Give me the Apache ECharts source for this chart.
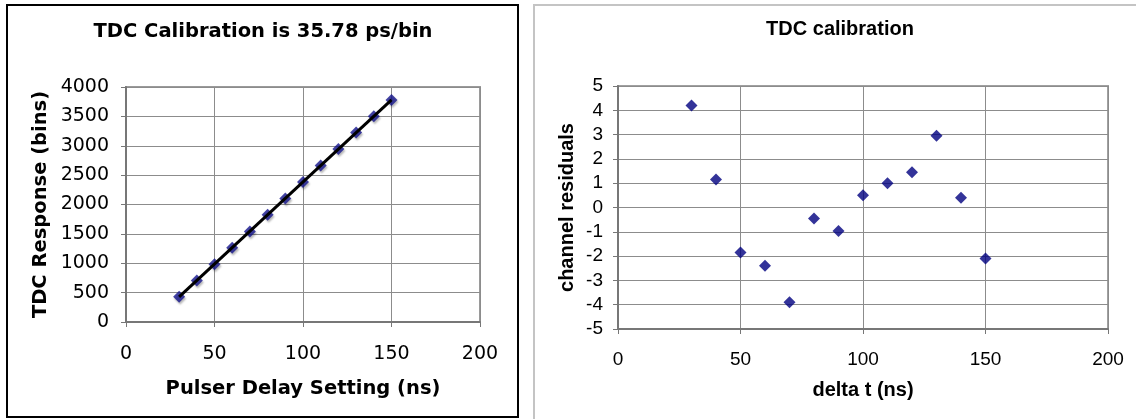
<!DOCTYPE html>
<html>
<head>
<meta charset="utf-8">
<title>TDC calibration</title>
<script src="https://cdn.jsdelivr.net/npm/echarts@6/dist/echarts.min.js"></script>
<style>
  html, body { margin: 0; padding: 0; background: #fff; }
  #chart { width: 1136px; height: 419px; }
</style>
</head>
<body>
<div id="chart"></div>
<script>
// Pulser delay settings (ns)
const delays = [30, 40, 50, 60, 70, 80, 90, 100, 110, 120, 130, 140, 150];
// TDC response (bins)
const tdcBins = [431, 707, 984, 1263, 1541, 1824, 2103, 2384, 2664, 2944, 3225, 3501, 3778];
// channel residuals of the linear fit
const residuals = [4.2, 1.15, -1.85, -2.4, -3.9, -0.45, -0.97, 0.5, 1.0, 1.45, 2.95, 0.4, -2.1];
// fit line end points
const fitX = [30, 150];
const fitY = [426, 3780];

const leftFont = "DejaVu Sans";
const rightFont = "Liberation Sans";

const chart = echarts.init(document.getElementById("chart"));

function axisCommon(font, size, nameSize, margin) {
  return {
    axisLine: { show: true, onZero: false, lineStyle: { color: "#777", width: 2 } },
    axisTick: { show: true, length: 5, lineStyle: { color: "#777", width: 1 } },
    axisLabel: { color: "#000", fontFamily: font, fontSize: size, margin: margin, formatter: (v) => String(v) },
    splitLine: { show: true, lineStyle: { color: "#8c8c8c", width: 1 } },
    nameTextStyle: { color: "#000", fontFamily: font, fontSize: nameSize, fontWeight: "bold" },
    nameLocation: "middle",
  };
}

const option = {
  animation: false,
  graphic: [
    // cadres extérieurs
    { type: "rect", shape: { x: 7, y: 5, width: 511, height: 412 }, style: { fill: "none", stroke: "#000", lineWidth: 2 } },
    { type: "rect", shape: { x: 534, y: 5, width: 620, height: 430 }, style: { fill: "none", stroke: "#c4c4c4", lineWidth: 2 } },
    // titres
    { type: "text", x: 263, y: 32, style: { text: "TDC Calibration is 35.78 ps/bin", fontFamily: leftFont, fontSize: 19.5, fontWeight: "bold", fill: "#000", align: "center", verticalAlign: "middle" } },
    { type: "text", x: 840, y: 29, style: { text: "TDC calibration", fontFamily: rightFont, fontSize: 20, fontWeight: "bold", fill: "#000", align: "center", verticalAlign: "middle" } },
  ],
  grid: [
    { left: 126, top: 87, width: 354, height: 235, show: true, borderColor: "#9a9a9a", borderWidth: 2 },
    { left: 618, top: 86, width: 490, height: 243, show: true, borderColor: "#a0a0a0", borderWidth: 2 },
  ],
  xAxis: [
    Object.assign(axisCommon(leftFont, 19, 19.5, 23), {
      type: "value", gridIndex: 0, min: 0, max: 200, interval: 50,
      name: "Pulser Delay Setting (ns)", nameGap: 57,
    }),
    Object.assign(axisCommon(rightFont, 19, 20, 21), {
      type: "value", gridIndex: 1, min: 0, max: 200, interval: 50,
      name: "delta t (ns)", nameGap: 51,
    }),
  ],
  yAxis: [
    Object.assign(axisCommon(leftFont, 19, 19.5, 17), {
      type: "value", gridIndex: 0, min: 0, max: 4000, interval: 500,
      name: "TDC Response (bins)", nameGap: 75,
    }),
    Object.assign(axisCommon(rightFont, 19, 20, 15), {
      type: "value", gridIndex: 1, min: -5, max: 5, interval: 1,
      name: "channel residuals", nameGap: 41,
    }),
  ],
  series: [
    {
      type: "scatter",
      xAxisIndex: 0, yAxisIndex: 0,
      symbol: "diamond", symbolSize: 12,
      data: delays.map((d, i) => [d, tdcBins[i]]),
      itemStyle: { color: "#14148c", shadowColor: "rgba(0,0,0,0.35)", shadowBlur: 2, shadowOffsetX: 1, shadowOffsetY: 2 },
      z: 2,
    },
    {
      type: "line",
      xAxisIndex: 0, yAxisIndex: 0,
      symbol: "none",
      data: fitX.map((x, i) => [x, fitY[i]]),
      lineStyle: { color: "#000", width: 3 },
      z: 3,
    },
    {
      type: "scatter",
      xAxisIndex: 1, yAxisIndex: 1,
      symbol: "diamond", symbolSize: [12, 12],
      data: delays.map((d, i) => [d, residuals[i]]),
      itemStyle: { color: "#000080" },
    },
  ],
};

chart.setOption(option);
window.addEventListener("resize", () => chart.resize());
</script>
</body>
</html>
